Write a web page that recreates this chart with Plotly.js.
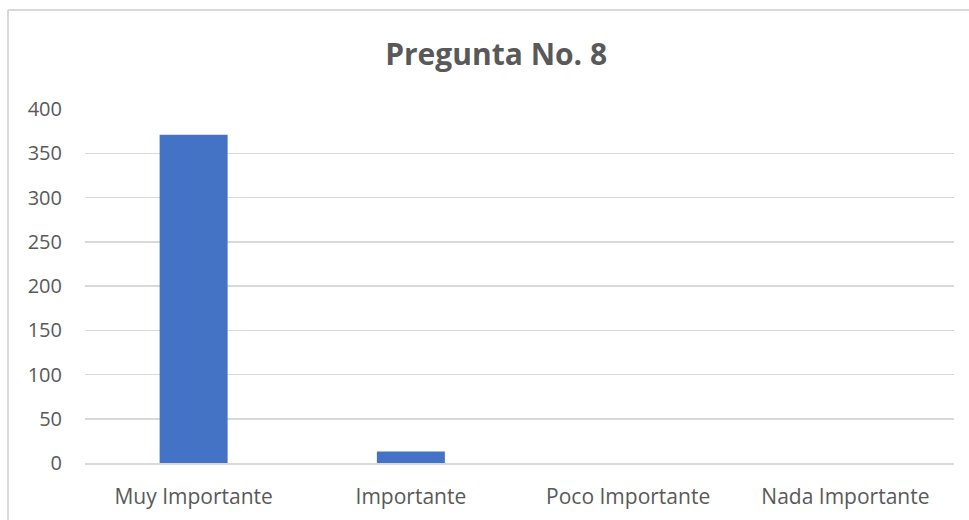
<!DOCTYPE html>
<html>
<head>
<meta charset="utf-8">
<script src="https://cdn.plot.ly/plotly-3.0.1.min.js"></script>
<style>
  html, body { margin: 0; padding: 0; background: #ffffff; }
  #chart { width: 969px; height: 520px; }
</style>
</head>
<body>
<div id="chart"></div>
<script>
const categories = ["Muy Importante", "Importante", "Poco Importante", "Nada Importante"];
const values = [371, 13, 0, 0];
const yTicks = [0, 50, 100, 150, 200, 250, 300, 350, 400];
const chartTitle = "Pregunta No. 8";

const W = 969, H = 520;
const M = { l: 85, r: 15, t: 109, b: 57 };
const pw = W - M.l - M.r, ph = H - M.t - M.b;
// border of the chart area (left and top edges visible)
const bx = (8 - M.l) / pw;
const by = (H - M.b - 10) / ph;

const gray = "#595959";
const font = "'Open Sans', 'Segoe UI', 'Liberation Sans', sans-serif";

const data = [{
  type: "bar",
  x: categories,
  y: values,
  marker: { color: "#4472c4" },
  hoverinfo: "x+y"
}];

const layout = {
  width: W, height: H,
  margin: M,
  paper_bgcolor: "#ffffff",
  plot_bgcolor: "#ffffff",
  showlegend: false,
  bargap: 0.687,
  title: {
    text: "<b>" + chartTitle + "</b>",
    font: { family: font, size: 30, color: gray },
    x: 0.512, xref: "container", xanchor: "center",
    y: 1 - 54 / H, yref: "container", yanchor: "middle"
  },
  xaxis: {
    type: "category",
    tickfont: { family: font, size: 21, color: gray },
    showgrid: false,
    zeroline: false,
    showline: true,
    linecolor: "#d9d9d9",
    linewidth: 1.5,
    ticks: "",
    ticklabelstandoff: 14
  },
  yaxis: {
    range: [0, 400],
    tickvals: yTicks,
    ticktext: yTicks.map(String),
    tickfont: { family: font, size: 20, color: gray },
    showgrid: true,
    gridcolor: "#d9d9d9",
    gridwidth: 1.5,
    zeroline: false,
    showline: false,
    ticks: "",
    ticklabelstandoff: 22
  },
  shapes: [
    { type: "line", xref: "paper", yref: "paper", x0: bx, x1: bx, y0: -1, y1: by,
      line: { color: "#d9d9d9", width: 2 }, layer: "below" },
    { type: "line", xref: "paper", yref: "paper", x0: bx, x1: 1.2, y0: by, y1: by,
      line: { color: "#d9d9d9", width: 2 }, layer: "below" }
  ]
};

Plotly.newPlot("chart", data, layout, { displayModeBar: false, staticPlot: true });
</script>
</body>
</html>
